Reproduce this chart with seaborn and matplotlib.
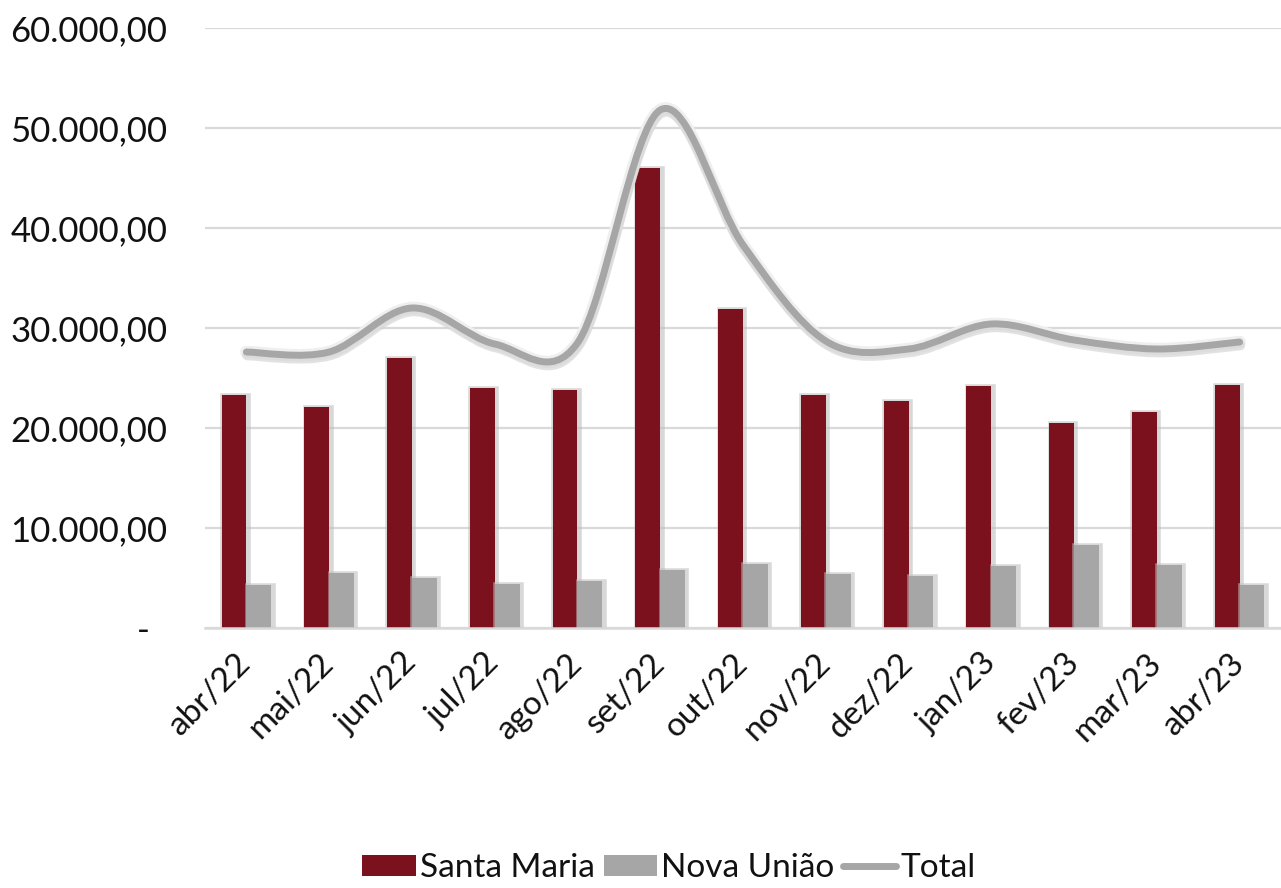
import numpy as np
import pandas as pd
import matplotlib
matplotlib.use("Agg")
import matplotlib.pyplot as plt
import matplotlib.patheffects as pe
from matplotlib.path import Path
from matplotlib.patches import PathPatch
from matplotlib.lines import Line2D
from matplotlib.patches import Patch
import seaborn as sns

months = ["abr/22", "mai/22", "jun/22", "jul/22", "ago/22", "set/22", "out/22",
          "nov/22", "dez/22", "jan/23", "fev/23", "mar/23", "abr/23"]
santa_maria = [23300, 22100, 27000, 24000, 23800, 46000, 31900,
               23300, 22700, 24200, 20500, 21600, 24300]
nova_uniao = [4300, 5500, 5000, 4400, 4700, 5800, 6400,
              5400, 5200, 6200, 8300, 6300, 4300]
total = [s + n for s, n in zip(santa_maria, nova_uniao)]
yticks = [0, 10000, 20000, 30000, 40000, 50000, 60000]
ytick_labels = ["-  ", "10.000,00", "20.000,00", "30.000,00", "40.000,00", "50.000,00", "60.000,00"]

RED = "#7b111c"
GRAY = "#a6a6a6"

sns.set_theme(style="white")
plt.rcParams["font.family"] = ["Lato", "DejaVu Sans"]

df = pd.DataFrame({
    "month": months * 2,
    "value": santa_maria + nova_uniao,
    "series": ["Santa Maria"] * len(months) + ["Nova União"] * len(months),
})

fig = plt.figure(figsize=(12.81, 8.88), dpi=100)
ax = fig.add_axes([205 / 1281, (888 - 628) / 888, (1281 - 205) / 1281, 600 / 888])

sns.barplot(data=df, x="month", y="value", hue="series", order=months,
            hue_order=["Santa Maria", "Nova União"],
            palette=[RED, GRAY], width=0.6, gap=0, saturation=1,
            legend=False, ax=ax, zorder=2)
for p in ax.patches:
    p.set_path_effects([pe.SimpleLineShadow(offset=(1, -1), shadow_color="#bfbfbf", alpha=0.6, linewidth=4),
                        pe.Normal()])
    p.set_linewidth(0)

# Smoothed total line (Bezier through data points, Excel-style)
x = np.arange(len(months), dtype=float)
y = np.array(total, dtype=float)
verts = [(x[0], y[0])]
codes = [Path.MOVETO]
n = len(x)
for i in range(n - 1):
    p0 = (x[i - 1], y[i - 1]) if i > 0 else (x[i], y[i])
    p1 = (x[i], y[i])
    p2 = (x[i + 1], y[i + 1])
    p3 = (x[i + 2], y[i + 2]) if i + 2 < n else (x[i + 1], y[i + 1])
    c1 = (p1[0] + (p2[0] - p0[0]) / 6, p1[1] + (p2[1] - p0[1]) / 6)
    c2 = (p2[0] - (p3[0] - p1[0]) / 6, p2[1] - (p3[1] - p1[1]) / 6)
    verts += [c1, c2, p2]
    codes += [Path.CURVE4] * 3
path = Path(verts, codes)
line = PathPatch(path, facecolor="none", edgecolor=GRAY, linewidth=5,
                 capstyle="round", joinstyle="round", zorder=3)
line.set_path_effects([
    pe.Stroke(linewidth=9, foreground="#efefef"),
    pe.SimpleLineShadow(offset=(0.5, -2.5), shadow_color="#d0d0d0", alpha=0.6, linewidth=7),
    pe.Normal()])
ax.add_patch(line)

ax.set_xlim(-0.5, len(months) - 0.5)
ax.set_ylim(0, 60000)
ax.set_yticks(yticks)
ax.set_yticklabels(ytick_labels, fontsize=25, color="#111111")
ax.yaxis.grid(True, color="#d9d9d9", linewidth=1.6, zorder=0)
ax.set_axisbelow(True)
ax.tick_params(axis="y", length=0, pad=27)

ax.set_xticks(range(len(months)))
ax.set_xticklabels(months, fontsize=24, color="#111111", rotation=45,
                   ha="right", va="center", rotation_mode="anchor")
ax.tick_params(axis="x", length=0, pad=22)
ax.set_xlabel("")
ax.set_ylabel("")
for s in ["top", "right", "left"]:
    ax.spines[s].set_visible(False)
ax.spines["bottom"].set_color("#d9d9d9")
ax.spines["bottom"].set_linewidth(1.8)

handles = [Patch(facecolor=RED, edgecolor="none"),
           Patch(facecolor=GRAY, edgecolor="none"),
           Line2D([0], [0], color=GRAY, linewidth=5, solid_capstyle="round")]
fig.legend(handles, ["Santa Maria", "Nova União", "Total"], loc="center",
           bbox_to_anchor=(669 / 1281, 1 - 868 / 888), ncol=3, frameon=False,
           fontsize=24, handlelength=1.6, handleheight=0.6, handletextpad=0.12,
           columnspacing=0.27, labelcolor="#111111")

fig.savefig("out.png", dpi=100)
